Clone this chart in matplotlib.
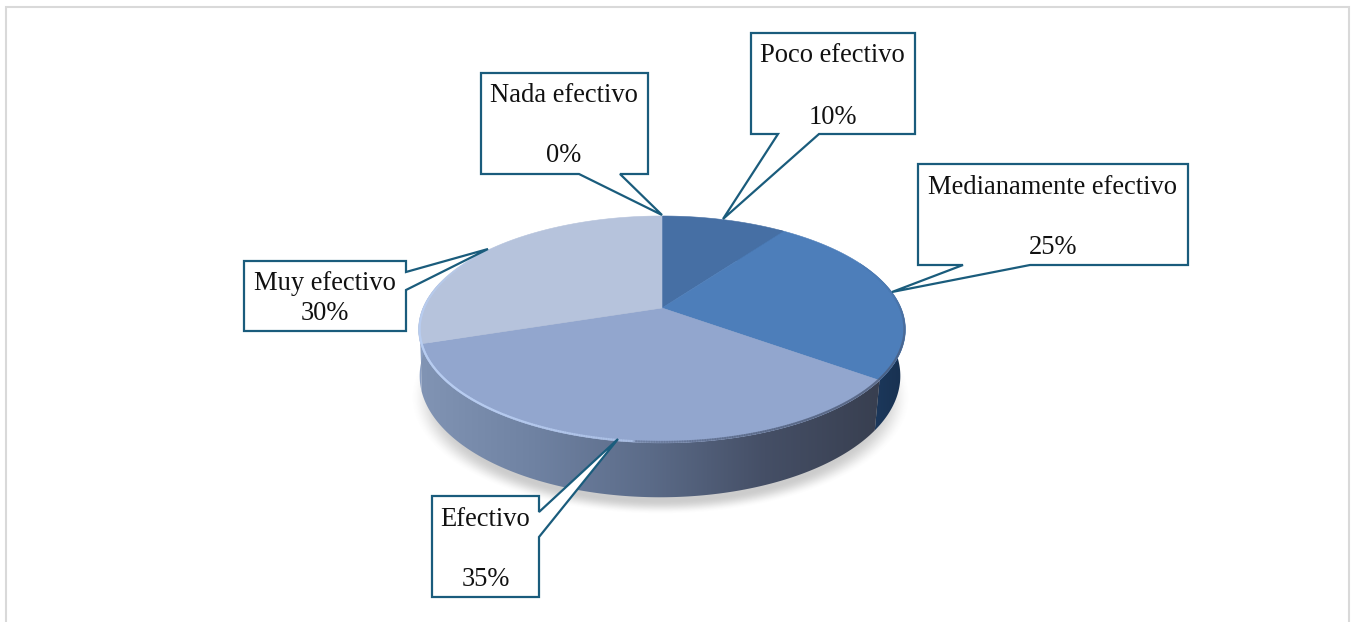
import numpy as np
import matplotlib
matplotlib.use("Agg")
import matplotlib.pyplot as plt
from matplotlib.patches import Polygon
from matplotlib.collections import LineCollection
from matplotlib.colors import LinearSegmentedColormap, to_rgb

# ---- data ----
categories = ["Nada efectivo", "Poco efectivo", "Medianamente efectivo", "Efectivo", "Muy efectivo"]
values = [0, 10, 25, 35, 30]
value_labels = ["0%", "10%", "25%", "35%", "30%"]
top_colors = ["#3f6797", "#466fa4", "#4d7eba", "#92a6ce", "#b6c3dc"]

# ---- styles / layout (pixel space) ----
W, H = 1352, 622
LINE = "#1a5c7c"
FONT = "Liberation Serif"
FS = 19.1

TOP = dict(cx=662.0, cy=308.0, k=239.0, a=109.4, c=0.189)
LOW = dict(cx=660.0, cy=353.0, k=236.0, a=117.0, c=0.189)

side_cmaps = {
    1: ["#1d3a5e", "#1d3a5e"],
    2: ["#1e3b60", "#17304f"],
    3: ["#8194b4", "#6f82a2", "#5b6b88", "#454f66", "#383f50"],
    4: ["#8fa3c8", "#8194b4"],
}
side_range = {1: (700, 910), 2: (860, 910), 3: (420, 880), 4: (415, 440)}

boxes = {
    "Nada efectivo": [(481, 73), (648, 73), (648, 174), (620, 174), (662, 215), (579, 174), (481, 174)],
    "Poco efectivo": [(751, 33), (915, 33), (915, 134), (819, 134), (723, 219), (778, 134), (751, 134)],
    "Medianamente efectivo": [(918, 164), (1188, 164), (1188, 265), (1030, 265), (892, 292), (963, 265), (918, 265)],
    "Efectivo": [(432, 496), (539, 496), (539, 512), (618, 439), (539, 537), (539, 597), (432, 597)],
    "Muy efectivo": [(244, 261), (406, 261), (406, 272), (488, 249), (406, 290), (406, 331), (244, 331)],
}
text_pos = {
    "Nada efectivo": ((564, 96), (564, 156)),
    "Poco efectivo": ((832, 56), (833, 117)),
    "Medianamente efectivo": ((1053, 187), (1053, 248)),
    "Efectivo": ((485, 519), (486, 579)),
    "Muy efectivo": ((325, 283), (325, 314)),
}


def project(theta, g):
    """Clockwise angle from the top of the disc -> perspective screen point."""
    X, Y = np.sin(theta), np.cos(theta)
    d = 1 + g["c"] * Y
    return g["cx"] + g["k"] * X / d, g["cy"] - g["a"] * Y / d


fig = plt.figure(figsize=(W / 100, H / 100), dpi=100, facecolor="white")
ax = fig.add_axes([0, 0, 1, 1])
ax.set_xlim(0, W)
ax.set_ylim(H, 0)
ax.axis("off")

# outer chart frame, open at the bottom
ax.plot([6, 6, 1348.5, 1348.5], [H, 6.5, 6.5, H], color="#d9d9d9", lw=1.5, solid_joinstyle="miter")

# soft shadow under the disc
xx, yy = np.meshgrid(np.arange(395, 935), np.arange(300, 530))
r = np.sqrt(((xx - 660) / 250.0) ** 2 + ((yy - 397) / 117.0) ** 2)
t = np.clip((1.0 - r) / 0.12, 0, 1)
shadow = np.zeros(xx.shape + (4,))
shadow[..., :3] = 0.45
shadow[..., 3] = 0.36 * t * t * (3 - 2 * t)
ax.imshow(shadow, extent=(395, 935, 530, 300), zorder=1, aspect="auto", interpolation="bilinear")

fractions = np.array(values, dtype=float) / sum(values)
edges = np.concatenate([[0], np.cumsum(fractions)]) * 2 * np.pi

# sides, back to front
for i in [4, 1, 2, 3]:
    th = np.linspace(edges[i], edges[i + 1], 200)
    tx, ty = project(th, TOP)
    lx, ly = project(th[::-1], LOW)
    poly = Polygon(np.column_stack([np.r_[tx, lx], np.r_[ty, ly]]), closed=True,
                   facecolor="none", edgecolor="none", zorder=2)
    ax.add_patch(poly)
    cmap = LinearSegmentedColormap.from_list("s", side_cmaps[i])
    x0, x1 = side_range[i]
    img = ax.imshow(np.linspace(0, 1, 256)[None, :], cmap=cmap, extent=(x0, x1, 510, 230),
                    aspect="auto", zorder=2 + i * 0.01, interpolation="bilinear")
    img.set_clip_path(poly)
ax.set_xlim(0, W)
ax.set_ylim(H, 0)

# top faces
for i in range(1, 5):
    th = np.linspace(edges[i], edges[i + 1], 200)
    tx, ty = project(th, TOP)
    pts = np.column_stack([np.r_[TOP["cx"], tx], np.r_[TOP["cy"], ty]])
    ax.add_patch(Polygon(pts, closed=True, facecolor=top_colors[i], edgecolor=top_colors[i],
                         lw=0.4, zorder=3))

# bevel rim: light toward the lower left, slightly dark toward the lower right
th = np.linspace(0, 2 * np.pi, 721)
shrunk = dict(TOP, k=TOP["k"] - 1.0, a=TOP["a"] - 0.8)
rx, ry = project(th, shrunk)
segs = np.stack([np.column_stack([rx[:-1], ry[:-1]]), np.column_stack([rx[1:], ry[1:]])], axis=1)
mid = (th[:-1] + th[1:]) / 2
sx, sy = np.sin(mid), np.cos(mid)
light = np.clip(-(sx * 0.8 + sy * 0.6), 0, 1) ** 2
dark = np.clip(sx * 0.55 - sy * 0.83, 0, 1) ** 3
cols = np.zeros((len(mid), 4))
for n in range(len(mid)):
    if light[n] >= dark[n]:
        cols[n] = (*to_rgb("#b9cef2"), 0.8 * light[n])
    else:
        cols[n] = (*to_rgb("#4a5874"), 0.55 * dark[n])
ax.add_collection(LineCollection(segs, colors=cols, linewidths=1.6, zorder=4, capstyle="round"))

# callouts
for name, pct in zip(categories, value_labels):
    ax.add_patch(Polygon(boxes[name], closed=True, facecolor="white", edgecolor=LINE,
                         lw=1.6, joinstyle="miter", zorder=5))
    (x1, y1), (x2, y2) = text_pos[name]
    ax.text(x1, y1, name, family=FONT, fontsize=FS, color="#111111", ha="center", va="center", zorder=6)
    ax.text(x2, y2, pct, family=FONT, fontsize=FS, color="#111111", ha="center", va="center", zorder=6)

fig.savefig("out.png", dpi=100, facecolor="white")
